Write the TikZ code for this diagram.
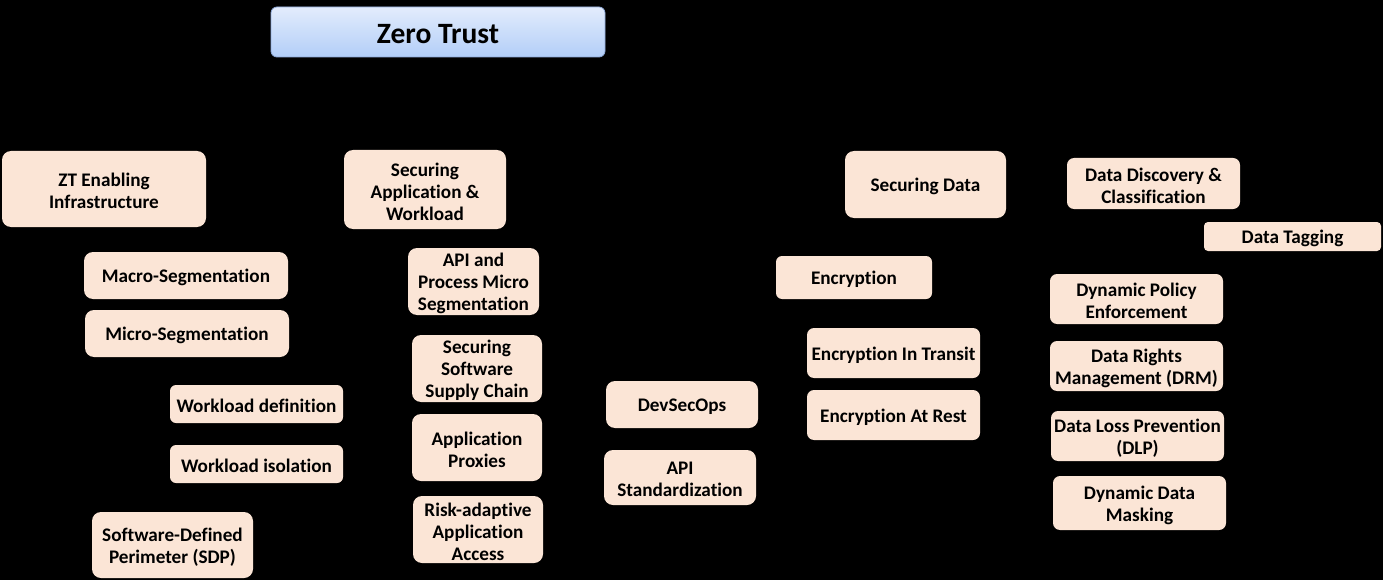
\documentclass[tikz,border=0pt]{standalone}
\usepackage{fontspec}
\setmainfont{Carlito}[Ligatures=NoCommon]
\definecolor{peach}{HTML}{FBE5D6}
\definecolor{ztop}{HTML}{E3ECFC}
\definecolor{zbot}{HTML}{B2CEF8}
\definecolor{zline}{HTML}{8EA9D8}
\tikzset{
  box/.style={draw=none, fill=peach, rounded corners=9pt, inner sep=0pt},
  btext/.style={inner sep=0pt, align=center, font=\fontsize{19.2}{22}\selectfont\bfseries, text=black},
  sz/.style n args={2}{minimum width=#1pt, minimum height=#2pt},
  ztbox/.style={draw=zline, line width=0.8pt, top color=ztop, bottom color=zbot, rounded corners=6pt,
    inner sep=0pt},
  zttext/.style={inner sep=0pt, font=\fontsize{29.5}{32}\selectfont\bfseries, text=black}
}
% \bx[extra]{name}{cx}{cy}{w}{h}{text}
\newcommand\bx[6][]{%
  \node[box, sz={#4}{#5}, #1] (#2) at (#3) {};
  \node[btext] (#2-t) at ([yshift=-2pt]#2.center) {#6};}
\begin{document}
\begin{tikzpicture}[x=1pt,y=-1pt]
\fill[black] (0,0) rectangle (1383,580);
\useasboundingbox (0,0) rectangle (1383,580);
\node[ztbox, sz={334}{50}] (zt) at (438,32) {};
\node[zttext] (zt-t) at ([yshift=-2pt]zt.center) {Zero Trust};
% column 1
\bx{zte}{104,189}{204}{76}{ZT Enabling\\Infrastructure}
\bx{macro}{186,275.5}{204}{47}{Macro-Segmentation}
\bx{micro}{187,333.5}{204}{47}{Micro-Segmentation}
\bx[rounded corners=6pt]{wd}{256.5,404}{173}{38}{Workload definition}
\bx[rounded corners=6pt]{wi}{256.5,464}{173}{38}{Workload isolation}
\bx{sdp}{172.5,545}{161}{66}{Software-Defined\\Perimeter (SDP)}
% column 2
\bx{saw}{425,189.5}{162}{79}{Securing\\Application \&\\Workload}
\bx{api}{473.5,281.5}{131}{67}{API and\\Process Micro\\Segmentation}
\bx{sssc}{477,368.5}{130}{67}{Securing\\Software\\Supply Chain}
\bx{ap}{477,447.5}{130}{67}{Application\\Proxies}
\bx{raa}{478,529.5}{130}{67}{Risk-adaptive\\Application\\Access}
\bx{dso}{682,404.5}{152}{47}{DevSecOps}
\bx{apis}{680,477.5}{152}{55}{API\\Standardization}
% column 3
\bx{sd}{925.5,184.5}{161}{67}{Securing Data}
\bx[rounded corners=6pt]{enc}{854,277.5}{156}{43}{Encryption}
\bx[rounded corners=7pt]{eit}{893.5,353}{173}{50}{Encryption In Transit}
\bx[rounded corners=7pt]{ear}{893.5,415}{173}{50}{Encryption At Rest}
% column 4
\bx[rounded corners=7pt]{ddc}{1153.5,183.5}{173}{51}{Data Discovery \&\\Classification}
\bx[rounded corners=4pt]{dt}{1292.5,236.5}{177}{29}{Data Tagging}
\bx[rounded corners=7pt]{dpe}{1136.5,299}{173}{50}{Dynamic Policy\\Enforcement}
\bx[rounded corners=7pt]{drm}{1136.5,366}{173}{50}{Data Rights\\Management (DRM)}
\bx[rounded corners=7pt]{dlp}{1137.5,436}{173}{50}{Data Loss Prevention\\(DLP)}
\bx[rounded corners=7pt]{ddm}{1139.5,503}{173}{54}{Dynamic Data\\Masking}
\end{tikzpicture}
\end{document}
